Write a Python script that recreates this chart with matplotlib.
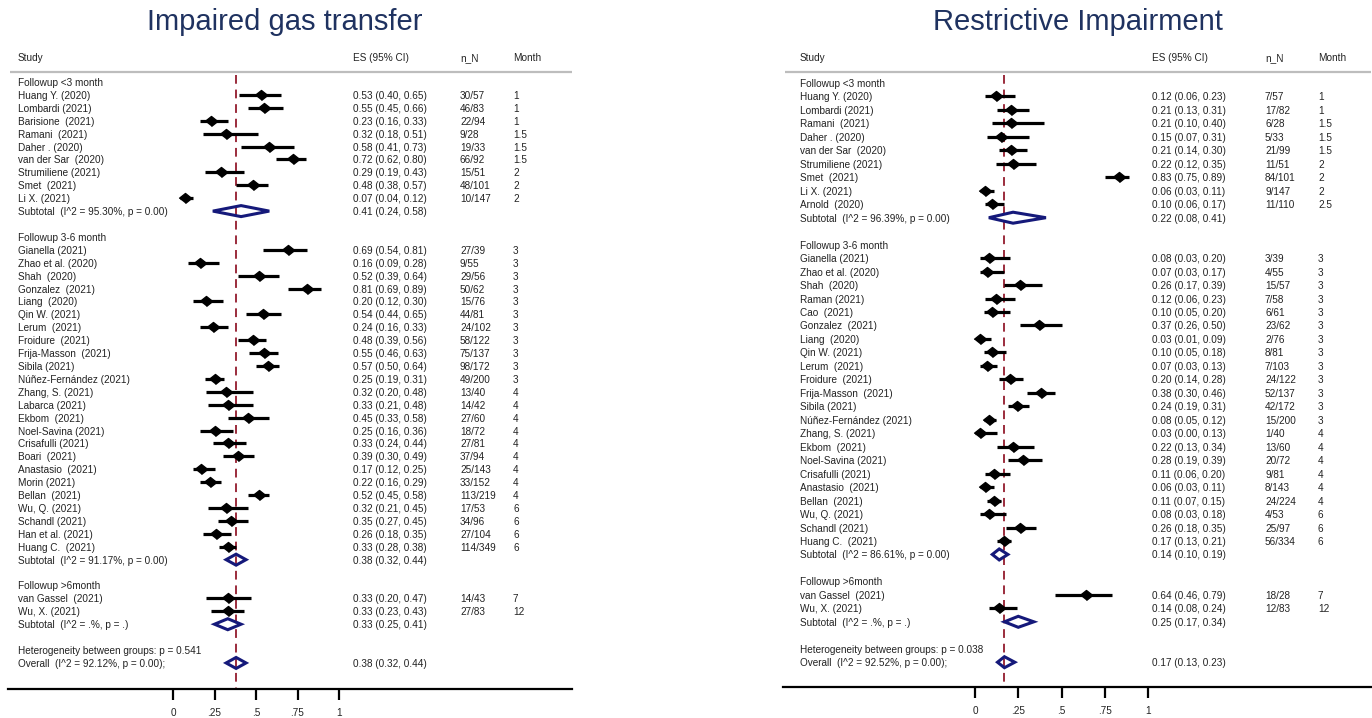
import matplotlib.pyplot as plt
import numpy as np
from matplotlib.patches import Polygon

plt.rcParams['font.family'] = ['Liberation Sans', 'DejaVu Sans']

group_labels = ["Followup <3 month", "Followup 3-6 month", "Followup >6month"]

# --- Impaired gas transfer ---
gas_study = ["Huang Y. (2020)", "Lombardi (2021)", "Barisione  (2021)", "Ramani  (2021)",
             "Daher . (2020)", "van der Sar  (2020)", "Strumiliene (2021)", "Smet  (2021)",
             "Li X. (2021)",
             "Gianella (2021)", "Zhao et al. (2020)", "Shah  (2020)", "Gonzalez  (2021)",
             "Liang  (2020)", "Qin W. (2021)", "Lerum  (2021)", "Froidure  (2021)",
             "Frija-Masson  (2021)", "Sibila (2021)", "Núñez-Fernández (2021)",
             "Zhang, S. (2021)", "Labarca (2021)", "Ekbom  (2021)", "Noel-Savina (2021)",
             "Crisafulli (2021)", "Boari  (2021)", "Anastasio  (2021)", "Morin (2021)",
             "Bellan  (2021)", "Wu, Q. (2021)", "Schandl (2021)", "Han et al. (2021)",
             "Huang C.  (2021)",
             "van Gassel  (2021)", "Wu, X. (2021)"]
gas_group = [0] * 9 + [1] * 24 + [2] * 2
gas_es = [0.53, 0.55, 0.23, 0.32, 0.58, 0.72, 0.29, 0.48, 0.07,
          0.69, 0.16, 0.52, 0.81, 0.20, 0.54, 0.24, 0.48, 0.55, 0.57, 0.25, 0.32,
          0.33, 0.45, 0.25, 0.33, 0.39, 0.17, 0.22, 0.52, 0.32, 0.35, 0.26, 0.33,
          0.33, 0.33]
gas_lo = [0.40, 0.45, 0.16, 0.18, 0.41, 0.62, 0.19, 0.38, 0.04,
          0.54, 0.09, 0.39, 0.69, 0.12, 0.44, 0.16, 0.39, 0.46, 0.50, 0.19, 0.20,
          0.21, 0.33, 0.16, 0.24, 0.30, 0.12, 0.16, 0.45, 0.21, 0.27, 0.18, 0.28,
          0.20, 0.23]
gas_hi = [0.65, 0.66, 0.33, 0.51, 0.73, 0.80, 0.43, 0.57, 0.12,
          0.81, 0.28, 0.64, 0.89, 0.30, 0.65, 0.33, 0.56, 0.63, 0.64, 0.31, 0.48,
          0.48, 0.58, 0.36, 0.44, 0.49, 0.25, 0.29, 0.58, 0.45, 0.45, 0.35, 0.38,
          0.47, 0.43]
gas_nN = ["30/57", "46/83", "22/94", "9/28", "19/33", "66/92", "15/51", "48/101", "10/147",
          "27/39", "9/55", "29/56", "50/62", "15/76", "44/81", "24/102", "58/122",
          "75/137", "98/172", "49/200", "13/40", "14/42", "27/60", "18/72", "27/81",
          "37/94", "25/143", "33/152", "113/219", "17/53", "34/96", "27/104", "114/349",
          "14/43", "27/83"]
gas_month = [1, 1, 1, 1.5, 1.5, 1.5, 2, 2, 2,
             3, 3, 3, 3, 3, 3, 3, 3, 3, 3, 3, 4, 4, 4, 4, 4, 4, 4, 4, 4, 6, 6, 6, 6,
             7, 12]
gas_sub_i2 = ["95.30%", "91.17%", ".%"]
gas_sub_p = ["0.00", "0.00", "."]
gas_sub_es = [0.41, 0.38, 0.33]
gas_sub_lo = [0.24, 0.32, 0.25]
gas_sub_hi = [0.58, 0.44, 0.41]
gas_overall = [0.38, 0.32, 0.44]
gas_overall_i2 = "92.12%"
gas_het_p = "0.541"

# --- Restrictive impairment ---
rest_study = ["Huang Y. (2020)", "Lombardi (2021)", "Ramani  (2021)", "Daher . (2020)",
              "van der Sar  (2020)", "Strumiliene (2021)", "Smet  (2021)", "Li X. (2021)",
              "Arnold  (2020)",
              "Gianella (2021)", "Zhao et al. (2020)", "Shah  (2020)", "Raman (2021)",
              "Cao  (2021)", "Gonzalez  (2021)", "Liang  (2020)", "Qin W. (2021)",
              "Lerum  (2021)", "Froidure  (2021)", "Frija-Masson  (2021)", "Sibila (2021)",
              "Núñez-Fernández (2021)", "Zhang, S. (2021)", "Ekbom  (2021)",
              "Noel-Savina (2021)", "Crisafulli (2021)", "Anastasio  (2021)",
              "Bellan  (2021)", "Wu, Q. (2021)", "Schandl (2021)", "Huang C.  (2021)",
              "van Gassel  (2021)", "Wu, X. (2021)"]
rest_group = [0] * 9 + [1] * 22 + [2] * 2
rest_es = [0.12, 0.21, 0.21, 0.15, 0.21, 0.22, 0.83, 0.06, 0.10,
           0.08, 0.07, 0.26, 0.12, 0.10, 0.37, 0.03, 0.10, 0.07, 0.20, 0.38, 0.24,
           0.08, 0.03, 0.22, 0.28, 0.11, 0.06, 0.11, 0.08, 0.26, 0.17,
           0.64, 0.14]
rest_lo = [0.06, 0.13, 0.10, 0.07, 0.14, 0.12, 0.75, 0.03, 0.06,
           0.03, 0.03, 0.17, 0.06, 0.05, 0.26, 0.01, 0.05, 0.03, 0.14, 0.30, 0.19,
           0.05, 0.00, 0.13, 0.19, 0.06, 0.03, 0.07, 0.03, 0.18, 0.13,
           0.46, 0.08]
rest_hi = [0.23, 0.31, 0.40, 0.31, 0.30, 0.35, 0.89, 0.11, 0.17,
           0.20, 0.17, 0.39, 0.23, 0.20, 0.50, 0.09, 0.18, 0.13, 0.28, 0.46, 0.31,
           0.12, 0.13, 0.34, 0.39, 0.20, 0.11, 0.15, 0.18, 0.35, 0.21,
           0.79, 0.24]
rest_nN = ["7/57", "17/82", "6/28", "5/33", "21/99", "11/51", "84/101", "9/147", "11/110",
           "3/39", "4/55", "15/57", "7/58", "6/61", "23/62", "2/76", "8/81", "7/103",
           "24/122", "52/137", "42/172", "15/200", "1/40", "13/60", "20/72", "9/81",
           "8/143", "24/224", "4/53", "25/97", "56/334",
           "18/28", "12/83"]
rest_month = [1, 1, 1.5, 1.5, 1.5, 2, 2, 2, 2.5,
              3, 3, 3, 3, 3, 3, 3, 3, 3, 3, 3, 3, 3, 4, 4, 4, 4, 4, 4, 6, 6, 6,
              7, 12]
rest_sub_i2 = ["96.39%", "86.61%", ".%"]
rest_sub_p = ["0.00", "0.00", "."]
rest_sub_es = [0.22, 0.14, 0.25]
rest_sub_lo = [0.08, 0.10, 0.17]
rest_sub_hi = [0.41, 0.19, 0.34]
rest_overall = [0.17, 0.13, 0.23]
rest_overall_i2 = "92.52%"
rest_het_p = "0.038"

W, H = 1372, 718
TXT = '#222222'
NAVY = '#15197a'
RED = '#9b2c3c'
FS = 7.2

fig = plt.figure(figsize=(W / 100, H / 100), dpi=100)


def draw_panel(title, title_x, px_left, px_right, px_zero, px_unit, row0, row_h, px_bottom,
               cols, study, grp, es, lo, hi, nN, month,
               sub_i2, sub_p, sub_es, sub_lo, sub_hi, overall, overall_i2, het_p):
    px_top = 40
    ax = fig.add_axes([px_left / W, 1 - px_bottom / H,
                       (px_right - px_left) / W, (px_bottom - px_top) / H])
    ax.set_xlim((px_left - px_zero) / px_unit, (px_right - px_zero) / px_unit)
    ax.set_ylim((px_bottom - row0) / row_h, (px_top - row0) / row_h)

    def xp(p):
        return (p - px_zero) / px_unit

    def yp(p):
        return (p - row0) / row_h

    def put(x, y, s):
        ax.text(x, y, s, fontsize=FS, color=TXT, va='center_baseline')

    c_name, c_es, c_n, c_m = [xp(c) for c in cols]

    # header
    hy = yp(57)
    for x, s in zip([c_name, c_es, c_n, c_m], ["Study", "ES (95% CI)", "n_N", "Month"]):
        put(x, hy, s)
    ax.plot([xp(px_left + 2), xp(px_right)], [yp(72)] * 2, color='#bdbdbd', lw=1.6,
            solid_capstyle='butt')

    def fmt(e, l, h):
        return f"{e:.2f} ({l:.2f}, {h:.2f})"

    # build rows
    row = 0
    rows = []
    sub_rows = []
    for g in range(len(group_labels)):
        put(c_name, row, group_labels[g])
        row += 1
        for i in range(len(study)):
            if grp[i] != g:
                continue
            rows.append(row)
            put(c_name, row, study[i])
            put(c_es, row, fmt(es[i], lo[i], hi[i]))
            put(c_n, row, nN[i])
            put(c_m, row, f"{month[i]:g}")
            row += 1
        sub_rows.append(row)
        put(c_name, row, f"Subtotal  (I^2 = {sub_i2[g]}, p = {sub_p[g]})")
        put(c_es, row, fmt(sub_es[g], sub_lo[g], sub_hi[g]))
        row += 2
    put(c_name, row, f"Heterogeneity between groups: p = {het_p}")
    row += 1
    ov_row = row
    put(c_name, row, f"Overall  (I^2 = {overall_i2}, p = 0.00);")
    put(c_es, row, fmt(*overall))

    # overall reference line
    ax.vlines(overall[0], yp(75), yp(px_bottom), colors=RED, lw=1.4,
              linestyles=(0, (4.5, 3)), zorder=1)

    # study estimates with CIs
    ax.hlines(rows, lo, hi, colors='black', lw=2.3, zorder=3)
    ax.plot(es, rows, linestyle='none', marker=[(-1, 0), (0, 0.8), (1, 0), (0, -0.8)],
            ms=9, color='black', zorder=4)

    # pooled diamonds
    dh = 5.5 / row_h
    for r, e, l, h in zip(sub_rows + [ov_row], sub_es + [overall[0]],
                          sub_lo + [overall[1]], sub_hi + [overall[2]]):
        ax.add_patch(Polygon([(l, r), (e, r - dh), (h, r), (e, r + dh)], closed=True,
                             fill=False, edgecolor=NAVY, lw=2.2, zorder=4))

    for s in ['top', 'left', 'right']:
        ax.spines[s].set_visible(False)
    ax.spines['bottom'].set_linewidth(1.6)
    ax.set_yticks([])
    ax.set_xticks([0, 0.25, 0.5, 0.75, 1])
    ax.set_xticklabels(['0', '.25', '.5', '.75', '1'])
    ax.tick_params(axis='x', direction='out', length=8, width=1.6, labelsize=FS,
                   labelcolor=TXT, pad=6)
    ax.set_facecolor('none')

    fig.text(title_x / W, 1 - 22 / H, title, fontsize=21, color='#1f3260',
             ha='left', va='center')


draw_panel("Impaired gas transfer", 147, 8, 572, 173, 166, 82, 12.91, 689,
           [18, 353, 460, 513], gas_study, gas_group, gas_es, gas_lo, gas_hi, gas_nN,
           gas_month, gas_sub_i2, gas_sub_p, gas_sub_es, gas_sub_lo, gas_sub_hi,
           gas_overall, gas_overall_i2, gas_het_p)

draw_panel("Restrictive Impairment", 933, 783, 1371, 975, 173, 83, 13.47, 687,
           [800, 1152, 1265, 1318], rest_study, rest_group, rest_es, rest_lo, rest_hi,
           rest_nN, rest_month, rest_sub_i2, rest_sub_p, rest_sub_es, rest_sub_lo,
           rest_sub_hi, rest_overall, rest_overall_i2, rest_het_p)

fig.savefig("out.png", dpi=100)
